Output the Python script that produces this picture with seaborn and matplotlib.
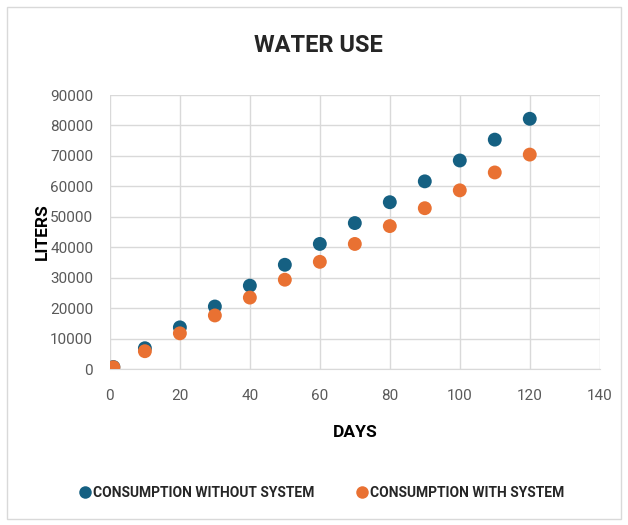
import matplotlib
matplotlib.use("Agg")
import matplotlib.pyplot as plt
import seaborn as sns
import pandas as pd
from matplotlib.patches import Rectangle

days = [1, 10, 20, 30, 40, 50, 60, 70, 80, 90, 100, 110, 120]
without_system = [685, 6850, 13700, 20550, 27400, 34250, 41100, 47950, 54800, 61650, 68500, 75350, 82200]
with_system = [587, 5870, 11740, 17610, 23480, 29350, 35220, 41090, 46960, 52830, 58700, 64570, 70440]
series_names = ["CONSUMPTION WITHOUT SYSTEM", "CONSUMPTION WITH SYSTEM"]
colors = ["#156082", "#E97132"]

df = pd.concat([
    pd.DataFrame({"DAYS": days, "LITERS": without_system, "series": series_names[0]}),
    pd.DataFrame({"DAYS": days, "LITERS": with_system, "series": series_names[1]}),
])

sns.set_style("white")
plt.rcParams["font.family"] = ["Roboto", "DejaVu Sans"]

fig = plt.figure(figsize=(6.28, 5.25), dpi=100)
ax = fig.add_axes([0.175, 0.297, 0.78, 0.522])

sns.scatterplot(data=df, x="DAYS", y="LITERS", hue="series", palette=colors,
                s=100, edgecolor="none", ax=ax, legend=True, zorder=3)

ax.set_xlim(0, 140)
ax.set_ylim(0, 90000)
ax.set_xticks(range(0, 141, 20))
ax.set_yticks(range(0, 90001, 10000))
ax.grid(True, color="#d9d9d9", linewidth=1)
ax.set_axisbelow(True)
for s in ["top", "right", "left"]:
    ax.spines[s].set_visible(False)
ax.spines["bottom"].set_color("#d9d9d9")
ax.tick_params(axis="x", length=0, labelsize=11, labelcolor="#595959", pad=14)
ax.tick_params(axis="y", length=0, labelsize=11, labelcolor="#595959", pad=12)

ax.set_xlabel("DAYS", fontsize=12.5, fontweight="bold", labelpad=16, color="black")
ax.set_ylabel("LITERS", fontsize=12.5, fontweight="bold", labelpad=0, color="black")

fig.text(0.507, 0.913, "WATER USE", ha="center", va="center", fontsize=17, fontweight="bold")

handles, labels = ax.get_legend_handles_labels()
ax.legend(handles, labels, loc="center", bbox_to_anchor=(0.51, 0.061), bbox_transform=fig.transFigure,
          ncol=2, frameon=False, prop={"weight": "bold", "size": 10},
          handletextpad=0.0, columnspacing=2.8, markerscale=0.9, handlelength=1.2)

fig.patches.append(Rectangle((0.011, 0.011), 0.978, 0.975, transform=fig.transFigure,
                             fill=False, edgecolor="#d9d9d9", linewidth=1))

fig.savefig("out.png", dpi=100)
